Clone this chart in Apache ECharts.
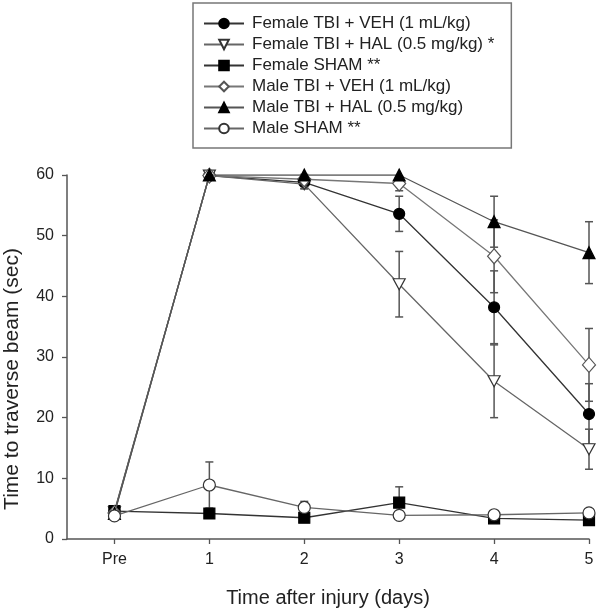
<!DOCTYPE html>
<html>
<head>
<meta charset="utf-8">
<script src="https://cdn.jsdelivr.net/npm/echarts@6/dist/echarts.min.js"></script>
<style>
html,body{margin:0;padding:0;background:#fff;}
#chart{width:600px;height:611px;}
</style>
</head>
<body>
<div id="chart"></div>
<script>
// ---- data ----
const days = [0, 1, 2, 3, 4, 5];
const xTickLabels = ['Pre', '1', '2', '3', '4', '5'];
const seriesNames = [
  'Female TBI + VEH (1 mL/kg)',
  'Female TBI + HAL (0.5 mg/kg) *',
  'Female SHAM **',
  'Male TBI + VEH (1 mL/kg)',
  'Male TBI + HAL (0.5 mg/kg)',
  'Male SHAM **'
];
const femVehMean  = [4.6, 59.9, 58.8, 53.6, 38.2, 20.6];
const femVehSem   = [0, 0, 1.0, 2.9, 6.0, 5.0];
const femHalMean  = [4.4, 59.9, 58.5, 42.0, 26.0, 14.8];
const femHalSem   = [0, 0, 0.8, 5.4, 6.0, 3.3];
const femShamMean = [4.6, 4.2, 3.5, 6.0, 3.4, 3.1];
const femShamSem  = [0, 0, 0, 2.6, 0, 0];
const maleVehMean = [4.3, 59.9, 59.3, 58.6, 46.6, 28.7];
const maleVehSem  = [0, 0, 0.8, 1.2, 6.0, 6.0];
const maleHalMean = [4.2, 60.0, 60.0, 60.0, 52.3, 47.2];
const maleHalSem  = [0, 0, 0, 0, 4.2, 5.1];
const maleShamMean= [3.8, 8.9, 5.2, 3.9, 4.0, 4.3];
const maleShamSem = [0, 3.8, 1.0, 0, 0, 0];

const means = [femVehMean, femHalMean, femShamMean, maleVehMean, maleHalMean, maleShamMean];
const sems  = [femVehSem, femHalSem, femShamSem, maleVehSem, maleHalSem, maleShamSem];

// ---- styles ----
const FONT = '"Liberation Sans", Arial, sans-serif';
const downTri = 'path://M0,0 L10,0 L5,9 Z';
const styles = [
  {symbol: 'circle', size: 11, fill: '#000', border: '#000', line: '#333'},
  {symbol: downTri, size: [12, 11], fill: '#fff', border: '#333', line: '#666'},
  {symbol: 'rect', size: 11, fill: '#000', border: '#000', line: '#333'},
  {symbol: 'diamond', size: [13, 15], fill: '#fff', border: '#555', line: '#777'},
  {symbol: 'triangle', size: 12, fill: '#000', border: '#000', line: '#555'},
  {symbol: 'circle', size: 12, fill: '#fff', border: '#333', line: '#666'}
];

const series = [];
// error bars
means.forEach((m, si) => {
  const data = [];
  days.forEach((d, i) => { if (sems[si][i] > 0) data.push([d, m[i], sems[si][i]]); });
  series.push({
    type: 'custom',
    name: 'err' + si,
    z: 1,
    silent: true,
    data: data,
    renderItem: function (params, api) {
      const x = api.value(0), y = api.value(1), e = api.value(2);
      const top = api.coord([x, y + e]);
      const bot = api.coord([x, y - e]);
      const hw = 4;
      const st = {stroke: '#555', lineWidth: 1.5};
      return {
        type: 'group',
        children: [
          {type: 'line', shape: {x1: top[0], y1: top[1], x2: bot[0], y2: bot[1]}, style: st},
          {type: 'line', shape: {x1: top[0] - hw, y1: top[1], x2: top[0] + hw, y2: top[1]}, style: st},
          {type: 'line', shape: {x1: bot[0] - hw, y1: bot[1], x2: bot[0] + hw, y2: bot[1]}, style: st}
        ]
      };
    }
  });
});
// lines with markers
means.forEach((m, si) => {
  const s = styles[si];
  series.push({
    type: 'line',
    name: seriesNames[si],
    z: 3 + si,
    data: days.map((d, i) => [d, m[i]]),
    symbol: s.symbol,
    symbolSize: s.size,
    showAllSymbol: true,
    lineStyle: {color: s.line, width: 1.3},
    itemStyle: {color: s.fill, borderColor: s.border, borderWidth: 1.2},
    emphasis: {disabled: true},
    animation: false
  });
});

const chart = echarts.init(document.getElementById('chart'));
chart.setOption({
  animation: false,
  backgroundColor: '#fff',
  grid: {left: 67, right: 11, top: 175, bottom: 72, containLabel: false, outerBoundsMode: 'none'},
  legend: {
    data: seriesNames,
    orient: 'vertical',
    left: 193,
    top: 3,
    padding: [12, 17, 11, 10],
    itemWidth: 40,
    itemHeight: 12,
    itemGap: 4,
    borderColor: '#777',
    borderWidth: 1.5,
    textStyle: {fontFamily: FONT, fontSize: 17, color: '#222', lineHeight: 17, padding: [0, 0, 0, 3]},
    selectedMode: false
  },
  xAxis: {
    type: 'value',
    min: -0.5,
    max: 5,
    name: 'Time after injury (days)',
    nameLocation: 'middle',
    nameGap: 49,
    nameTextStyle: {fontFamily: FONT, fontSize: 20, color: '#222'},
    axisLine: {show: true, onZero: false, lineStyle: {color: '#555', width: 1.5}},
    axisTick: {show: true, customValues: days, length: 5, lineStyle: {color: '#555', width: 1.3}},
    axisLabel: {
      customValues: days,
      margin: 13,
      fontFamily: FONT, fontSize: 16, color: '#222',
      formatter: function (v) { return xTickLabels[days.indexOf(v)]; }
    },
    splitLine: {show: false}
  },
  yAxis: {
    type: 'value',
    min: 0,
    max: 60,
    interval: 10,
    name: 'Time to traverse beam (sec)',
    nameLocation: 'middle',
    nameRotate: 90,
    nameGap: 44,
    nameTextStyle: {fontFamily: FONT, fontSize: 21, color: '#222', padding: [0, 44, 0, 0]},
    axisLine: {show: true, onZero: false, lineStyle: {color: '#555', width: 1.5}},
    axisTick: {show: true, length: 5, lineStyle: {color: '#555', width: 1.3}},
    axisLabel: {margin: 13, fontFamily: FONT, fontSize: 16, color: '#222'},
    splitLine: {show: false}
  },
  series: series
});
</script>
</body>
</html>
